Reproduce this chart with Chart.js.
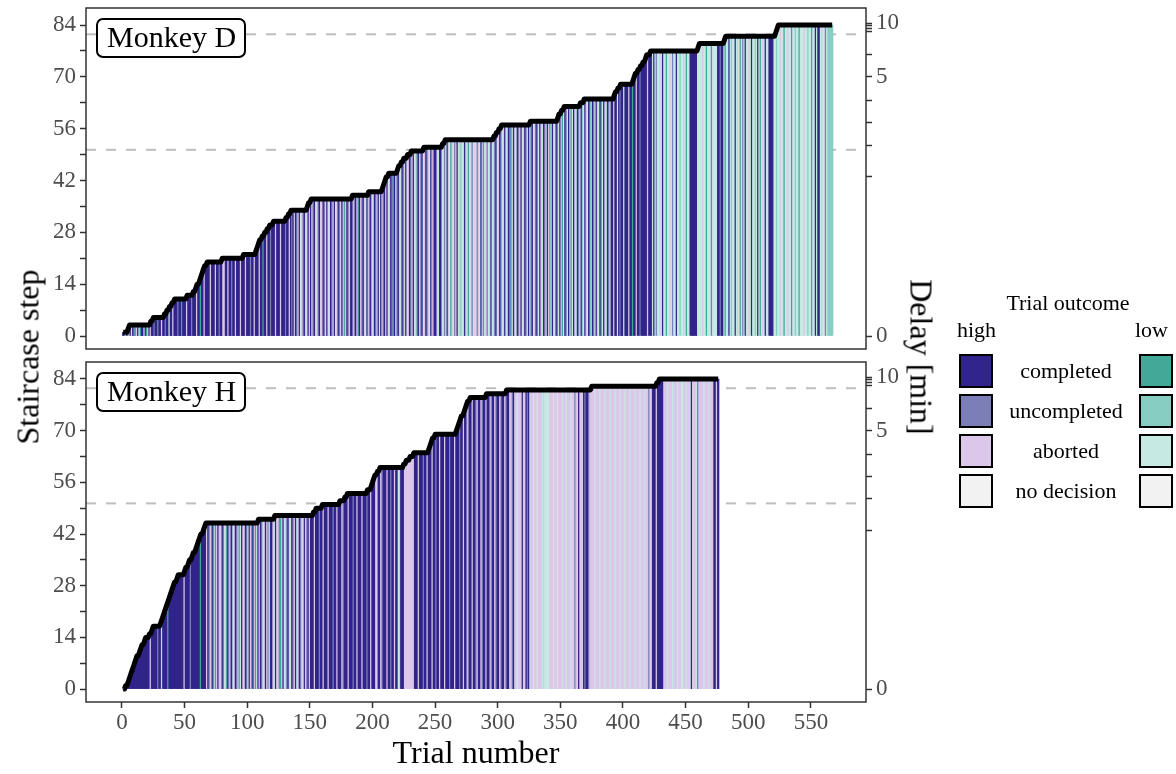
<!DOCTYPE html>
<html>
<head>
<meta charset="utf-8">
<script src="https://cdn.jsdelivr.net/npm/chart.js@4.4.1/dist/chart.umd.min.js"></script>
<style>
body { margin: 0; background: #fff; width: 1176px; height: 774px; position: relative; overflow: hidden; font-family: 'Liberation Serif', serif; }
canvas { position: absolute; left: 0; }
#panelD { top: 0; }
#panelH { top: 355px; }
.axtitle { position: absolute; font-size: 32px; white-space: nowrap; color: #000; transform-origin: center; }
.leg { position: absolute; font-size: 22px; white-space: nowrap; color: #000; }
.sw { position: absolute; width: 30px; height: 30px; border: 2px solid #000; }
</style>
</head>
<body>
<canvas id="panelD" width="1176" height="355"></canvas>
<canvas id="panelH" width="1176" height="419"></canvas>
<div class="axtitle" style="left:28px;top:357px;transform:translate(-50%,-50%) rotate(-90deg)">Staircase step</div>
<div class="axtitle" style="left:921px;top:357px;transform:translate(-50%,-50%) rotate(90deg)">Delay [min]</div>
<div class="leg" style="left:1068px;top:303px;transform:translate(-50%,-50%)">Trial outcome</div>
<div class="leg" style="left:957px;top:330px;transform:translateY(-50%)">high</div>
<div class="leg" style="left:1135px;top:330px;transform:translateY(-50%)">low</div>
<div id="legend"></div>
<script>
// Monkey D: staircase level per trial (level holds from start trial to next start)
const dTrials = 567;
const dStepStart = [1, 5, 6, 23, 25, 34, 36, 38, 40, 42, 52, 57, 59, 60, 62, 63, 64, 65, 66, 68, 80, 97, 107, 108, 109, 110, 112, 114, 116, 118, 121, 131, 133, 135, 148, 149, 151, 184, 197, 208, 209, 210, 211, 213, 220, 221, 223, 225, 228, 231, 241, 256, 258, 297, 299, 301, 303, 326, 348, 349, 351, 353, 366, 369, 393, 394, 396, 398, 408, 409, 410, 412, 414, 416, 418, 419, 422, 460, 461, 481, 482, 522, 523, 524];
const dStepLevel = [1, 2, 3, 4, 5, 6, 7, 8, 9, 10, 11, 12, 13, 14, 15, 16, 17, 18, 19, 20, 21, 22, 23, 24, 25, 26, 27, 28, 29, 30, 31, 32, 33, 34, 35, 36, 37, 38, 39, 40, 41, 42, 43, 44, 45, 46, 47, 48, 49, 50, 51, 52, 53, 54, 55, 56, 57, 58, 59, 60, 61, 62, 63, 64, 65, 66, 67, 68, 69, 70, 71, 72, 73, 74, 75, 76, 77, 78, 79, 80, 81, 82, 83, 84];
// outcome runs: start trial + code (C/U/A/N high, c/u/a/n low)
const dOutcomeRuns = '1C 3a 4C 5c 6A 7C 8a 9C 10c 11U 12A 13C 14a 15c 16C 18a 19C 20c 21A 22C 23A 24C 26U 27C 29c 30C 32A 33C 35U 36C 38a 39C 41A 42C 45U 46C 48c 49C 52A 53C 56U 57C 60A 61C 63c 64C 66A 67C 71A 72C 75A 76C 78U 79C 81A 83C 85A 86C 88U 89C 91A 92C 95A 96C 99A 100C 103U 104C 106A 107C 110A 111C 113c 114C 116A 117C 119U 120C 123A 124C 127A 128C 131U 132C ' +
	'134A 135C 136U 137C 138A 139C 140U 141A 142C 143a 144A 145U 146C 147A 148a 149C 150A 151C 152A 153U 154C 155A 156a 157U 158C 159A 161C 162U 163A 164C 165a 166A 167C 168U 169A 170C 171a 172A 173C 174U 175A 176C 177A 178c 179A 180C 181U 182A 183C 185A 186U 187C 188A 189c 190C 191A 192U 193C 194A 195a 196C 197A 198U 199C 200a 201A 202C 203U 204A 205C 206a 207C 208A 209U 210C 211A 212C 213a 214A 215C 216U 217c 218C 219A 220U 221C 222A 223a 224C 225U 226A 227C 228a 229A 230C 231U 232A 233C 234a 235A 236c 237C 238A 239U 240C 241a 242A 243C 244U 245A 246a 247C 248A 249U 250C 252A 253a 254C 256a 257A 258U 259a 260C 261A 262a 263c 264A 265a 266U 267A 268C 269a 270A 271u 272a 273A 274C 275a 276A 277c 278a 279A 280U 281a ' +
	'282A 283a 284U 285A 286a 287C 288A 289c 290a 291A 292U 293a 294A 295C 296a 297A 298U 299C 300a 301A 302C 303U 304a 305A 306C 307a 308A 309C 310c 311U 312a 313C 314A 315a 316C 317U 318A 319C 320a 321A 322C 323U 324a 325C 326A 327c 328C 329a 330A 331C 332U 333a 334C 335A 336a 337C 338U 339a 340C 341A 342c 343a 344C 345A 346a 347C 348U 349a 350C 351A 352c 353a 354C 355U 356a 357C 358A 359c 360a 361C 362A 363a 364C 365U 366a 367C 368u 369a 370C 371A 372a 373C 374c 375a 376C 377U 378a 379C 380A 381a 382C 383c 384a 385C 386A 387a 388C 389U 390a 391C 393A 394C 396a 397C 398U 399C 401a 402C 405A 406C 408c 409C 411A 412C 414U 415C 420A 421C 424a 425C ' +
	'426a 427U 428a 430A 431a 432C 433a 435c 436a 438A 439a 440U 441a 443C 444a 446u 447a 449A 450a 451c 452a 454C 460a 464A 465a 467c 468a 471U 472a 476C 478U 479C 481a 482c 483a 485C 486a 487u 488a 490C 491a 492A 493a 494c 495a 496U 497a 498C 499a 501A 502a 503C 504a 506u 507a 508C 509a 510c 511a 512A 513a 514C 515a 517C 521a 523u 524a 526A 527a 529c 530a 532A 533a 535U 536a 538u 539a 541c 542a 545A 546a 548u 549a 551c 552a 554C 555a 556C 558a 559A 560a 562U 563a 564u';

// Monkey H
const hTrials = 476;
const hStepStart = [1, 3, 5, 6, 7, 8, 9, 10, 11, 12, 14, 15, 16, 18, 19, 22, 24, 25, 31, 32, 33, 34, 35, 36, 37, 38, 39, 40, 41, 42, 44, 45, 50, 51, 53, 54, 56, 57, 59, 60, 61, 62, 63, 65, 66, 67, 109, 122, 153, 155, 160, 174, 178, 180, 196, 199, 200, 201, 202, 204, 206, 225, 227, 230, 233, 245, 246, 247, 248, 250, 267, 268, 269, 270, 271, 273, 274, 275, 276, 278, 291, 307, 375, 427, 429];
const hStepLevel = [0, 1, 2, 3, 4, 5, 6, 7, 8, 9, 10, 11, 12, 13, 14, 15, 16, 17, 18, 19, 20, 21, 22, 23, 24, 25, 26, 27, 28, 29, 30, 31, 32, 33, 34, 35, 36, 37, 38, 39, 40, 41, 42, 43, 44, 45, 46, 47, 48, 49, 50, 51, 52, 53, 54, 55, 56, 57, 58, 59, 60, 61, 62, 63, 64, 65, 66, 67, 68, 69, 70, 71, 72, 73, 74, 75, 76, 77, 78, 79, 80, 81, 82, 83, 84];
const hOutcomeRuns = '1C 23A 24C 29U 30C 32A 33C 37c 38C 50A 51C 55U 56C 63c 64C 68A 69C 70U 71A 72c 73C 74a 75U 76A 77C 78A 80U 81C 82a 83A 84c 85C 86A 87U 88C 89a 90A 91C 92U 93A 94c 95a 96C 97A 99C 100U 101a 102C 103A 104c 105C 106A 107U 108a 109C 110A 111C 112U 113a 114A 115C 116A 117U 118a 119C 121A 122a 123C 124A 126U 127c 128A 129C 130a 131A 132U 133C 134A 135a 136C 137U 138A 139C 140a 141A 142C 143U 144A 145a 146C 147A 148U 149C 150A 151C 154A 155C 158U 159C 161A 162C 165A 166C 169U 170C 172A 173C 176A 177U 178C 181A 182C 185U 186C 188A 189C 192A 193C 196U 197C 199A 200C 203A 205C 207A 208U 209C 212A 213C 215U 216C 218A 219C 221a 222A 223C 226A 234C 237A 238C 241U 242C 244A 245C 248A 249C 251U 252C 254A 255C 258A 259C 262U 263C 266A 267C 270U 271C 273A 274C 276A 277U 278C 280A 281C 283U 284A 285C 287A 288U 289C 291A 292C 294U 295A 296C 298A 299U 300C 302A 303U 304C 306A 307U 308C 310A 312U 313C 314A 316a 317A 320C 321A 323C 324U 325C 326A 329a 330A 332a 333A 336a 337A 338a 342A 345a 346A 348a 349A 352a 353A 355a 356A 359a 360A 362U 363A 365C 366A 369C 370U 371C 373U 374A 378a 379A 382a 383A 386a 387A 390a 391A 394a 395A 398a 399A 402a 403A 406a 407A 410a 411A 414a 415A 418a 419A 421U 422A 424C 427A 428C 433A 436a 437A 440a 441A 444a 445A 447a 449A 451a 452A 454a 455C 456A 459a 460U 461A 465a 466A 469a 470A 473C 475A 476C';

// axes
const xTicks = [0, 50, 100, 150, 200, 250, 300, 350, 400, 450, 500, 550];
const stepTicks = [0, 14, 28, 42, 56, 70, 84];
const stepMinor = [7, 21, 35, 49, 63, 77];
const delayMin = [0, 1, 2, 3, 4, 5, 6, 7, 8, 9, 10];
const delayAtStep = [0, 43, 51.5, 57.6, 63.5, 70, 76.1, 82.3, 83.1, 83.8, 84.5];
const delayLabeled = [0, 5, 10];
const dashLevels = [81.5, 50.3];

const outcomeNames = ['completed', 'uncompleted', 'aborted', 'no decision'];
const highCodes = ['C', 'U', 'A', 'N'];
const lowCodes = ['c', 'u', 'a', 'n'];
const outcomeColor = {
	C: '#31248A', U: '#7B7EB7', A: '#DCC6EA', N: '#F2F2F2',
	c: '#42A898', u: '#88CDC1', a: '#C7E9E3', n: '#F2F2F2'
};

Chart.defaults.font.family = "'Liberation Serif', serif";

const expandSteps = (starts, levels, n) => {
	let out = [];
	let k = 0;
	for (let t = 1; t <= n; t++) {
		while (k + 1 < starts.length && starts[k + 1] <= t) k++;
		out.push({ x: t, y: levels[k] });
	}
	return out;
};

const expandOutcomes = (runs, n) => {
	const toks = runs.trim().split(/\s+/).map((s) => [parseInt(s), s.slice(-1)]);
	let out = [];
	let k = 0;
	for (let t = 1; t <= n; t++) {
		while (k + 1 < toks.length && toks[k + 1][0] <= t) k++;
		out.push(toks[k][1]);
	}
	return out;
};

const tickFont = { family: "'Liberation Serif', serif", size: 23 };
const tickGrey = '#4D4D4D';
const noPad = (s) => { s.paddingTop = 0; s.paddingBottom = 0; s.paddingLeft = 0; s.paddingRight = 0; };

const makePanel = (id, label, starts, levels, runs, n, showX) => {
	const pts = expandSteps(starts, levels, n);
	const colours = expandOutcomes(runs, n).map((c) => outcomeColor[c]);

	const deco = {
		id: 'deco' + id,
		beforeDatasetsDraw(chart) {
			const { ctx, chartArea } = chart;
			const y = chart.scales.y;
			ctx.save();
			ctx.strokeStyle = '#BEBEBE';
			ctx.lineWidth = 2;
			ctx.setLineDash([10, 10]);
			dashLevels.forEach((v) => {
				const py = y.getPixelForValue(v);
				ctx.beginPath();
				ctx.moveTo(chartArea.left, py);
				ctx.lineTo(chartArea.right, py);
				ctx.stroke();
			});
			ctx.restore();
		},
		afterDatasetsDraw(chart) {
			const { ctx, chartArea } = chart;
			ctx.save();
			// panel border
			ctx.strokeStyle = '#333';
			ctx.lineWidth = 1.5;
			ctx.strokeRect(chartArea.left, chartArea.top, chartArea.right - chartArea.left, chartArea.bottom - chartArea.top);
			// monkey label
			const bx = chartArea.left + 11, by = chartArea.top + 11;
			ctx.beginPath();
			ctx.roundRect(bx, by, 148, 38, 6);
			ctx.fillStyle = '#fff';
			ctx.fill();
			ctx.lineWidth = 2;
			ctx.strokeStyle = '#000';
			ctx.stroke();
			ctx.fillStyle = '#000';
			ctx.font = "30px 'Liberation Serif', serif";
			ctx.textBaseline = 'middle';
			ctx.fillText(label, bx + 10, by + 20);
			ctx.restore();
		}
	};

	return new Chart(document.getElementById(id).getContext('2d'), {
		type: 'bar',
		data: {
			datasets: [
				{
					type: 'line',
					data: pts,
					borderColor: '#000',
					borderWidth: 5,
					borderJoinStyle: 'round',
					pointRadius: 0,
					tension: 0,
					order: 0
				},
				{
					type: 'bar',
					data: pts,
					backgroundColor: colours,
					borderWidth: 0,
					barThickness: 1.6,
					order: 1
				}
			]
		},
		options: {
			responsive: false,
			animation: false,
			devicePixelRatio: 1,
			events: [],
			layout: { padding: { left: 0, right: 260, top: showX ? 7 : 8, bottom: showX ? 0 : 6 } },
			plugins: { legend: { display: false }, tooltip: { enabled: false } },
			scales: {
				x: {
					type: 'linear',
					min: -28.7,
					max: 594,
					offset: false,
					display: showX,
					border: { display: false },
					grid: { drawOnChartArea: false, offset: false, tickLength: 6, tickColor: '#333', tickWidth: 1.5 },
					afterBuildTicks: (s) => { s.ticks = xTicks.map((v) => ({ value: v })); },
					afterFit: (s) => { s.height = showX ? 72 : 0; noPad(s); },
					ticks: { font: tickFont, color: tickGrey, padding: 1, autoSkip: false, maxRotation: 0 },
					title: { display: showX, text: 'Trial number', font: { size: 32 }, color: '#000', padding: 0 }
				},
				y: {
					min: -3.5,
					max: 88.6,
					border: { display: false },
					grid: { drawOnChartArea: false, tickLength: 6, tickColor: '#333', tickWidth: 1.5 },
					afterBuildTicks: (s) => {
						s.ticks = stepTicks.concat(stepMinor).sort((a, b) => a - b).map((v) => ({ value: v }));
					},
					afterFit: (s) => { s.width = 86; noPad(s); },
					ticks: {
						font: tickFont, color: tickGrey, padding: 4, autoSkip: false,
						callback: (v) => (stepTicks.includes(v) ? v : '')
					}
				},
				y2: {
					position: 'right',
					min: -3.5,
					max: 88.6,
					border: { display: false },
					grid: { drawOnChartArea: false, tickLength: 6, tickColor: '#333', tickWidth: 1.5 },
					afterBuildTicks: (s) => { s.ticks = delayAtStep.map((v) => ({ value: v })); },
					afterFit: (s) => { s.width = 50; noPad(s); },
					ticks: {
						font: tickFont, color: tickGrey, padding: 4, autoSkip: false,
						callback: (v) => {
							const m = delayMin[delayAtStep.indexOf(v)];
							return delayLabeled.includes(m) ? m : '';
						}
					}
				}
			}
		},
		plugins: [deco]
	});
};

makePanel('panelD', 'Monkey D', dStepStart, dStepLevel, dOutcomeRuns, dTrials, false);
makePanel('panelH', 'Monkey H', hStepStart, hStepLevel, hOutcomeRuns, hTrials, true);

// legend
const leg = document.getElementById('legend');
outcomeNames.forEach((name, i) => {
	const y = 354 + i * 40;
	leg.insertAdjacentHTML('beforeend',
		`<div class="sw" style="left:959px;top:${y}px;background:${outcomeColor[highCodes[i]]}"></div>` +
		`<div class="sw" style="left:1139px;top:${y}px;background:${outcomeColor[lowCodes[i]]}"></div>` +
		`<div class="leg" style="left:1066px;top:${y + 17}px;transform:translate(-50%,-50%)">${name}</div>`);
});
</script>
</body>
</html>
